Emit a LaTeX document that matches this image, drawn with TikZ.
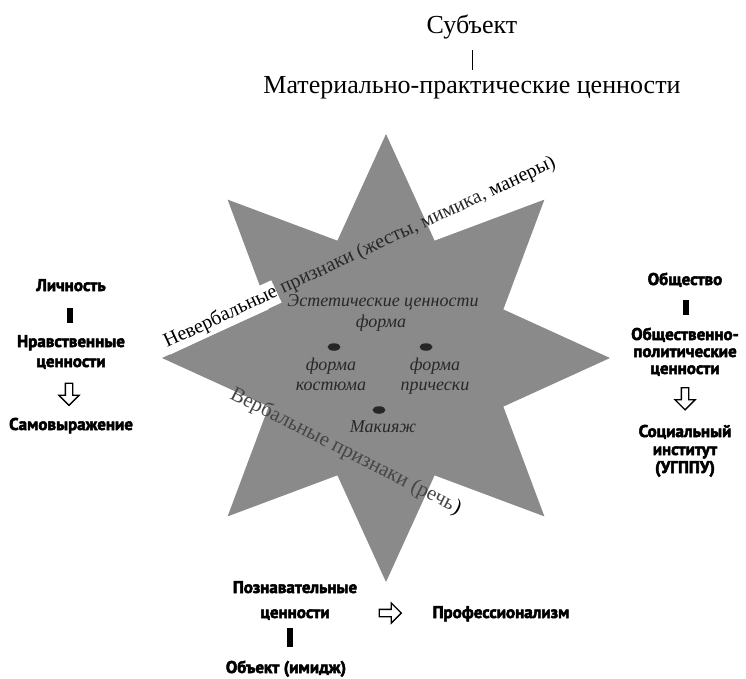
\documentclass[tikz,border=0pt]{standalone}
\usepackage{fontspec}
\setmainfont{Liberation Serif}
\newfontfamily\lblfont[BoldFeatures={FakeBold=3}]{PT Sans}
\usetikzlibrary{shapes.arrows,shapes.geometric}
\definecolor{starfill}{RGB}{138,138,138}
\definecolor{ink}{RGB}{40,40,40}
\definecolor{inklight}{RGB}{70,70,70}
\begin{document}
\begin{tikzpicture}[x=1pt,y=1pt,
  toptext/.style={font=\fontsize{26}{30}\selectfont, inner sep=0pt, anchor=base},
  lbl/.style={font=\lblfont\bfseries\fontsize{17}{18}\selectfont, align=center, inner sep=0pt, anchor=base},
  innertext/.style={font=\itshape\fontsize{18}{20}\selectfont, text=ink, inner sep=0pt, align=center, anchor=base},
  slanted/.style={font=\fontsize{20}{22}\selectfont, inner xsep=0pt, inner ysep=3pt, anchor=base west},
  barline/.style={line width=6pt},
  thinbar/.style={line width=0.9pt},
  openarrow/.style={single arrow, draw=black, fill=white, line width=1.3pt, inner sep=3pt,
    single arrow head extend=6.5pt, minimum height=22pt, single arrow tip angle=90},
  dot/.style={ellipse, fill=black!85, minimum width=13pt, minimum height=7.5pt, inner sep=0pt}
]
\useasboundingbox (0,0) rectangle (746,-678);

% star
\begin{scope}[shift={(386,-358)}]
\fill[starfill] (90:224) \foreach \i in {0,...,7}{ -- ({112.5+45*\i}:127) -- ({135+45*\i}:224) } -- cycle;
\end{scope}

% top
\node[toptext] (subj) at (472,-33) {Субъект};
\node[toptext] (mat) at (472,-93) {Материально-практические ценности};
\draw[thinbar] (472,-50) coordinate (tb1) -- (472,-70) coordinate (tb2);

% left column
\node[lbl] (lich) at (71,-291) {Личность};
\node[lbl, font=\lblfont\bfseries\fontsize{17}{20}\selectfont] (nrav) at (71,-367) {Нравственные\\ценности};
\node[lbl] (samo) at (71,-430) {Самовыражение};
\draw[barline] (70,-308) coordinate (lb1) -- (70,-323) coordinate (lb2);
\node[openarrow, rotate=-90] (arrL) at (69,-392.5) {};

% right column
\node[lbl, font=\lblfont\bfseries\fontsize{17}{17}\selectfont] (obsh) at (685,-285) {Общество};
\node[lbl, font=\lblfont\bfseries\fontsize{17}{17}\selectfont] (obpol) at (685,-374) {Общественно-\\политические\\ценности};
\node[lbl] (soc) at (685,-473) {Социальный\\институт\\(УГППУ)};
\draw[barline] (686,-300) coordinate (rb1) -- (686,-315) coordinate (rb2);
\node[openarrow, rotate=-90] (arrR) at (685,-397) {};

% bottom
\node[lbl, font=\lblfont\bfseries\fontsize{17}{25}\selectfont] (pozn) at (295,-618) {Познавательные\\ценности};
\node[lbl] (obj) at (286,-673) {Объект (имидж)};
\node[lbl] (prof) at (501,-618) {Профессионализм};
\draw[barline] (290,-628) coordinate (bb1) -- (290,-647) coordinate (bb2);
\node[openarrow] (arrB) at (388.5,-613) {};

% inner texts
\node[innertext] (est) at (383,-306) {Эстетические ценности};
\node[innertext] (forma) at (381,-327) {форма};
\node[dot] (d1) at (334,-347) {};
\node[dot] (d2) at (426,-347) {};
\node[dot] (d3) at (379,-410) {};
\node[innertext] (kost) at (331,-390) {форма\\костюма};
\node[innertext] (pric) at (435,-390) {форма\\прически};
\node[innertext] (mak) at (383,-432) {Макияж};

% slanted texts
\node[slanted, rotate=25, fill=white, text=black] (nv) at (167,-348) {Невербальные};
\node[slanted, rotate=25, text=ink] (pz) at (nv.base east) {\ признаки (жесты, мимика,};
\node[slanted, rotate=25, fill=white, text=black] (mn) at (pz.base east) {\ манеры)};

\node[slanted, font=\fontsize{21}{24}\selectfont, rotate=-27, text=inklight] (vb) at (229,-398) {Вербальные признаки (речь};
\node[slanted, font=\fontsize{21}{24}\selectfont, rotate=-27, text=black] (vbe) at (vb.base east) {)};
\end{tikzpicture}
\end{document}
